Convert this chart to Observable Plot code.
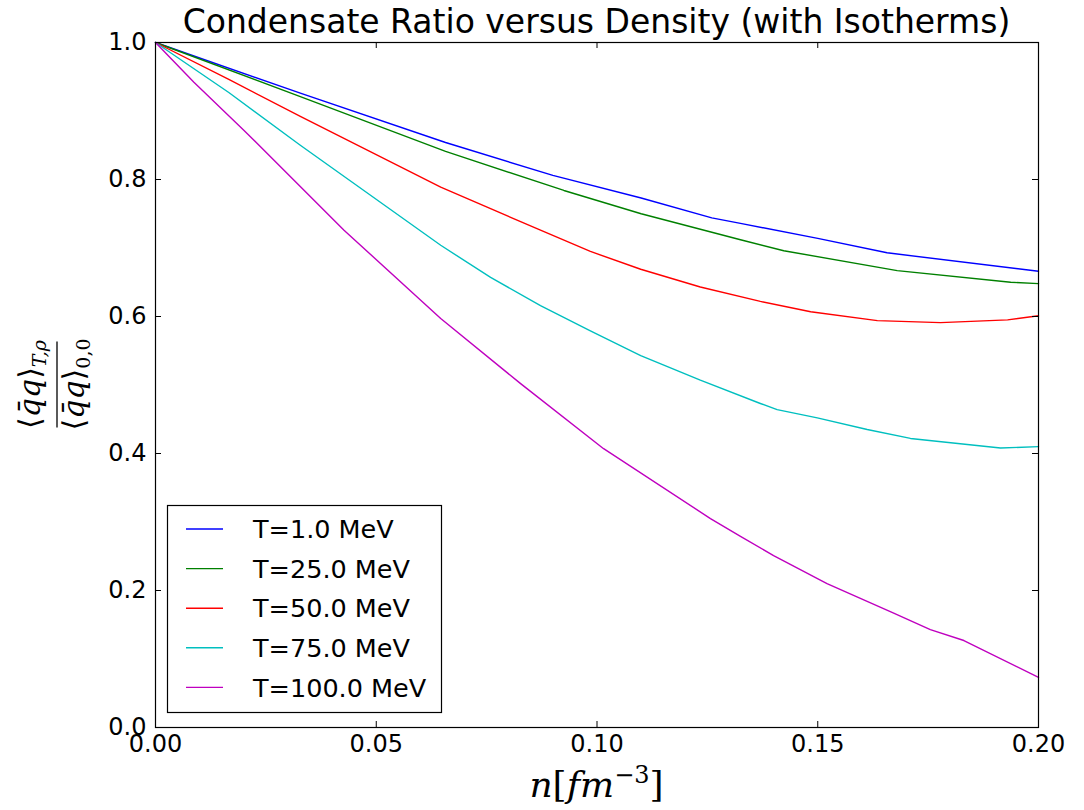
<!DOCTYPE html>
<html>
<head>
<meta charset="utf-8">
<script src="https://cdn.jsdelivr.net/npm/d3@7"></script>
<script src="https://cdn.jsdelivr.net/npm/@observablehq/plot@0.6"></script>
<style>
  html, body { margin: 0; padding: 0; background: white; }
</style>
</head>
<body>
<div id="chart"></div>
<script>
// ---- data ----
const seriesLabels = ["T=1.0 MeV", "T=25.0 MeV", "T=50.0 MeV", "T=75.0 MeV", "T=100.0 MeV"];
const seriesColors = ["#0000ff", "#008000", "#ff0000", "#00bfbf", "#bf00bf"];

const nT1   = [0, 0.0328, 0.0657, 0.09, 0.11, 0.126, 0.1325, 0.15, 0.1657, 0.2];
const vT1   = [1, 0.926, 0.854, 0.806, 0.773, 0.744, 0.736, 0.714, 0.693, 0.666];

const nT25  = [0, 0.0328, 0.0657, 0.0925, 0.11, 0.1325, 0.1423, 0.168, 0.1937, 0.2];
const vT25  = [1, 0.921, 0.841, 0.784, 0.750, 0.712, 0.696, 0.667, 0.650, 0.648];

const nT50  = [0, 0.0166, 0.0328, 0.0646, 0.0872, 0.0985, 0.1099, 0.1234, 0.137, 0.1484, 0.1635, 0.1778, 0.193, 0.2];
const vT50  = [1, 0.946, 0.892, 0.789, 0.726, 0.695, 0.669, 0.643, 0.622, 0.607, 0.594, 0.591, 0.595, 0.601];

const nT75  = [0, 0.0166, 0.0328, 0.0646, 0.0759, 0.0872, 0.0985, 0.1099, 0.1234, 0.137, 0.1408, 0.1499, 0.1612, 0.171, 0.1914, 0.2];
const vT75  = [1, 0.927, 0.850, 0.704, 0.657, 0.616, 0.579, 0.543, 0.507, 0.473, 0.464, 0.452, 0.435, 0.422, 0.408, 0.410];

const nT100 = [0, 0.0087, 0.02, 0.0427, 0.0646, 0.0827, 0.1015, 0.1257, 0.1325, 0.140, 0.1521, 0.1672, 0.1755, 0.1831, 0.2];
const vT100 = [1, 0.942, 0.872, 0.726, 0.597, 0.502, 0.407, 0.305, 0.279, 0.251, 0.210, 0.167, 0.143, 0.127, 0.073];

const xTicks = [0, 0.05, 0.10, 0.15, 0.20];
const yTicks = [0, 0.2, 0.4, 0.6, 0.8, 1.0];

const titleText = "Condensate Ratio versus Density (with Isotherms)";

// ---- table built from the arrays ----
const seriesN = [nT1, nT25, nT50, nT75, nT100];
const seriesV = [vT1, vT25, vT50, vT75, vT100];
const rows = [];
seriesLabels.forEach((lab, i) => {
  seriesN[i].forEach((n, j) => rows.push({ series: lab, n, v: seriesV[i][j] }));
});

const W = 1084, H = 810;
const mL = 155, mR = 46, mT = 42, mB = 83;
const frameW = W - mL - mR, frameH = H - mT - mB;
const tickLen = 6;

const chart = Plot.plot({
  width: W, height: H,
  marginLeft: mL, marginRight: mR, marginTop: mT, marginBottom: mB,
  style: { fontFamily: "'DejaVu Sans', sans-serif", fontSize: "24px", background: "white", color: "black", overflow: "visible" },
  x: { domain: [0, 0.2] },
  y: { domain: [0, 1] },
  color: { domain: seriesLabels, range: seriesColors },
  marks: [
    Plot.line(rows, { x: "n", y: "v", z: "series", stroke: "series", strokeWidth: 1.4 }),
    // inward ticks on all four sides
    Plot.tickX(xTicks, { x: d => d, insetTop: frameH - tickLen, stroke: "black" }),
    Plot.tickX(xTicks, { x: d => d, insetBottom: frameH - tickLen, stroke: "black" }),
    Plot.tickY(yTicks, { y: d => d, insetRight: frameW - tickLen, stroke: "black" }),
    Plot.tickY(yTicks, { y: d => d, insetLeft: frameW - tickLen, stroke: "black" }),
    Plot.frame({ stroke: "black", strokeWidth: 1.2 }),
    Plot.axisX(xTicks, { tickSize: 0, tickPadding: 7, tickFormat: d3.format(".2f"), fontSize: 24, label: null }),
    Plot.axisY(yTicks, { tickSize: 0, tickPadding: 9, tickFormat: d3.format(".1f"), fontSize: 24, label: null })
  ]
});

document.getElementById("chart").appendChild(chart);

const svg = d3.select(chart);
// make sure the tick labels use the intended size
svg.selectAll('g[aria-label="x-axis tick label"], g[aria-label="y-axis tick label"]')
  .attr("font-size", 24).style("font-size", "24px");

// title
svg.append("text")
  .attr("x", mL + frameW / 2).attr("y", 33)
  .attr("text-anchor", "middle")
  .style("font-family", "'DejaVu Sans', sans-serif")
  .style("font-size", "33px")
  .attr("fill", "black")
  .text(titleText);

// x label: n[fm^-3]
const xl = svg.append("text")
  .attr("x", mL + frameW / 2).attr("y", 797)
  .attr("text-anchor", "middle")
  .style("font-family", "'DejaVu Serif', serif")
  .style("font-size", "36px")
  .attr("fill", "black");
xl.append("tspan").style("font-style", "italic").text("n");
xl.append("tspan").text("[");
xl.append("tspan").style("font-style", "italic").text("fm");
xl.append("tspan").attr("dy", -14).style("font-size", "24px").text("−3");
xl.append("tspan").attr("dy", 14).text("]");

// y label: fraction, rotated
const yg = svg.append("g").attr("transform", `translate(57,${mT + frameH / 2}) rotate(-90)`)
  .style("font-family", "'DejaVu Serif', serif").attr("fill", "black");
yg.append("line").attr("x1", -43).attr("x2", 43).attr("y1", 0).attr("y2", 0)
  .attr("stroke", "black").attr("stroke-width", 1.3);
const num = yg.append("text").attr("x", 0).attr("y", -17).attr("text-anchor", "middle").style("font-size", "30px");
num.append("tspan").text("⟨");
num.append("tspan").style("font-style", "italic").text("q̄q");
num.append("tspan").text("⟩");
num.append("tspan").attr("dy", 6).style("font-size", "19px").style("font-style", "italic").text("T,ρ");
const den = yg.append("text").attr("x", 0).attr("y", 27).attr("text-anchor", "middle").style("font-size", "30px");
den.append("tspan").text("⟨");
den.append("tspan").style("font-style", "italic").text("q̄q");
den.append("tspan").text("⟩");
den.append("tspan").attr("dy", 6).style("font-size", "19px").text("0,0");

// legend box
const lg = svg.append("g");
lg.append("rect").attr("x", 167.5).attr("y", 505.5).attr("width", 274).attr("height", 207)
  .attr("fill", "white").attr("stroke", "black").attr("stroke-width", 1.2);
seriesLabels.forEach((lab, i) => {
  const yy = 529 + i * 39.6;
  lg.append("line").attr("x1", 186).attr("x2", 223).attr("y1", yy).attr("y2", yy)
    .attr("stroke", seriesColors[i]).attr("stroke-width", 1.4);
  lg.append("text").attr("x", 253).attr("y", yy).attr("dy", "0.36em")
    .attr("text-anchor", "start")
    .style("font-family", "'DejaVu Sans', sans-serif").style("font-size", "25.5px")
    .attr("fill", "black").text(lab);
});
</script>
</body>
</html>
